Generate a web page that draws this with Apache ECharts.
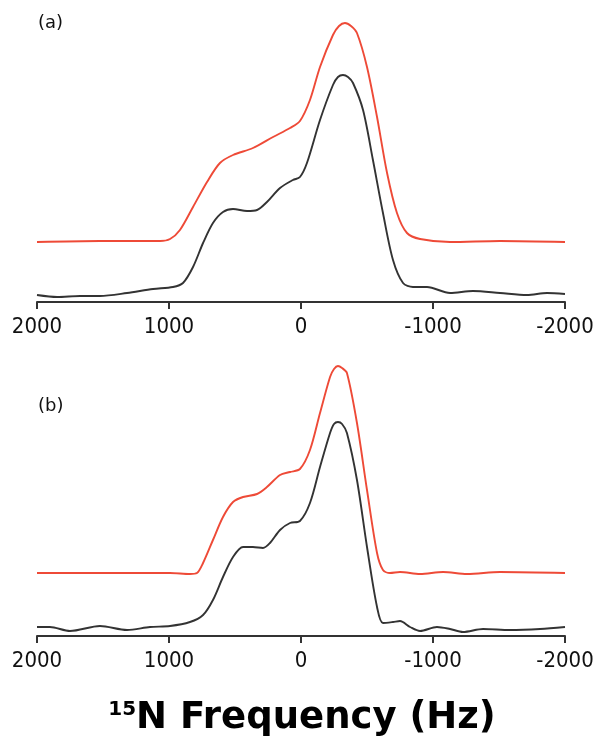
<!DOCTYPE html>
<html>
<head>
<meta charset="utf-8">
<script src="https://cdn.jsdelivr.net/npm/echarts@6/dist/echarts.min.js"></script>
<style>
  html, body { margin: 0; padding: 0; background: #fff; }
  #chart { width: 602px; height: 753px; }
</style>
</head>
<body>
<div id="chart"></div>
<script>
// x tick labels (Hz, axis reversed)
const tickValues = [2000, 1000, 0, -1000, -2000];
const panelLabels = ['(a)', '(b)'];

// Panel (a) — black spectrum
const freqA_black = [2000, 1848, 1674, 1523, 1318, 1121, 970, 894, 818, 742, 667, 591, 515, 409, 333, 258, 159, 61, 8, -45, -144, -242, -280, -318, -356, -394, -470, -545, -621, -697, -773, -848, -955, -1129, -1303, -1508, -1712, -1864, -2000];
const intA_black  = [7, 5, 6, 6, 9, 13, 15, 19, 35, 59, 79, 90, 93, 91, 92, 100, 114, 122, 125, 139, 182, 217, 225, 227, 225, 219, 192, 142, 89, 42, 19, 15, 15, 9, 11, 9, 7, 9, 8];

// Panel (a) — red spectrum (offset)
const freqA_red = [2000, 1523, 1068, 992, 917, 818, 712, 614, 515, 364, 212, 83, 8, -68, -144, -242, -288, -333, -379, -424, -500, -576, -652, -727, -803, -902, -1129, -1508, -2000];
const intA_red  = [60, 61, 61, 63, 72, 95, 120, 139, 147, 154, 165, 174, 181, 202, 235, 267, 276, 279, 276, 269, 235, 185, 129, 89, 69, 63, 60, 61, 60];

// Panel (b) — black spectrum
const freqB_black = [2000, 1902, 1750, 1523, 1318, 1144, 992, 841, 742, 667, 591, 515, 439, 364, 288, 235, 159, 83, 8, -68, -144, -220, -250, -280, -311, -348, -424, -500, -576, -621, -697, -750, -826, -902, -1030, -1129, -1227, -1379, -1583, -1811, -2000];
const intB_black  = [9, 9, 5, 10, 6, 9, 10, 14, 21, 36, 59, 79, 89, 89, 88, 93, 106, 113, 115, 133, 169, 203, 212, 214, 212, 203, 156, 89, 29, 13, 14, 15, 9, 5, 9, 7, 4, 7, 6, 7, 9];

// Panel (b) — red spectrum (offset)
const freqB_red = [2000, 1523, 1144, 992, 841, 788, 742, 667, 591, 515, 439, 333, 258, 159, 83, 8, -68, -144, -220, -250, -280, -311, -348, -424, -500, -576, -621, -674, -750, -902, -1076, -1258, -1508, -2000];
const intB_red  = [63, 63, 63, 63, 62, 63, 73, 96, 119, 134, 139, 142, 149, 161, 164, 167, 186, 223, 259, 267, 270, 268, 263, 213, 146, 83, 66, 63, 64, 62, 64, 62, 64, 63];

const axisLabel = 'N Frequency (Hz)';
const axisLabelSup = '15';

function pairs(xs, ys) { return xs.map((x, i) => [x, ys[i]]); }

const RED = '#ee4a37';
const BLACK = '#333333';
const FONT = 'DejaVu Sans';
const TICKFONT = '"DejaVu Sans Condensed", "DejaVu Sans"';

const chart = echarts.init(document.getElementById('chart'), null, { renderer: 'canvas' });

function xAxisCfg(gi) {
  return {
    gridIndex: gi, type: 'value', inverse: true,
    min: -2000, max: 2000, interval: 1000,
    axisLine: { show: true, lineStyle: { color: '#333', width: 2 } },
    axisTick: { show: true, length: 7, lineStyle: { color: '#333', width: 2 } },
    axisLabel: {
      color: '#111', fontFamily: TICKFONT, fontSize: 22, margin: 14,
      formatter: v => (tickValues.indexOf(v) >= 0 ? String(v) : '')
    },
    splitLine: { show: false }
  };
}
function yAxisCfg(gi) {
  return { gridIndex: gi, type: 'value', min: 0, max: 280, show: false, splitLine: { show: false } };
}
function lineSeries(gi, data, color) {
  return {
    type: 'line', xAxisIndex: gi, yAxisIndex: gi, data: data,
    smooth: 0.3, showSymbol: false, symbol: 'none',
    lineStyle: { color: color, width: 1.9 }, silent: true, animation: false
  };
}

chart.setOption({
  animation: false,
  backgroundColor: '#fff',
  grid: [
    { left: 37, right: 37, top: 22, height: 280 },
    { left: 37, right: 37, top: 356, height: 280 }
  ],
  xAxis: [xAxisCfg(0), xAxisCfg(1)],
  yAxis: [yAxisCfg(0), yAxisCfg(1)],
  title: [
    { text: panelLabels[0], left: 33, top: 9, textStyle: { fontFamily: FONT, fontSize: 18, fontWeight: 'normal', color: '#111' } },
    { text: panelLabels[1], left: 33, top: 392, textStyle: { fontFamily: FONT, fontSize: 18, fontWeight: 'normal', color: '#111' } }
  ],
  graphic: [{
    type: 'text', x: 302, y: 718, silent: true,
    style: {
      text: '{sup|' + axisLabelSup + '}{main|' + axisLabel + '}',
      align: 'center', verticalAlign: 'middle',
      rich: {
        sup: { fontFamily: FONT, fontSize: 20, fontWeight: 'bold', fill: '#000', verticalAlign: 'top' },
        main: { fontFamily: FONT, fontSize: 37, fontWeight: 'bold', fill: '#000' }
      }
    }
  }],
  series: [
    lineSeries(0, pairs(freqA_red, intA_red), RED),
    lineSeries(0, pairs(freqA_black, intA_black), BLACK),
    lineSeries(1, pairs(freqB_red, intB_red), RED),
    lineSeries(1, pairs(freqB_black, intB_black), BLACK)
  ]
});
</script>
</body>
</html>
